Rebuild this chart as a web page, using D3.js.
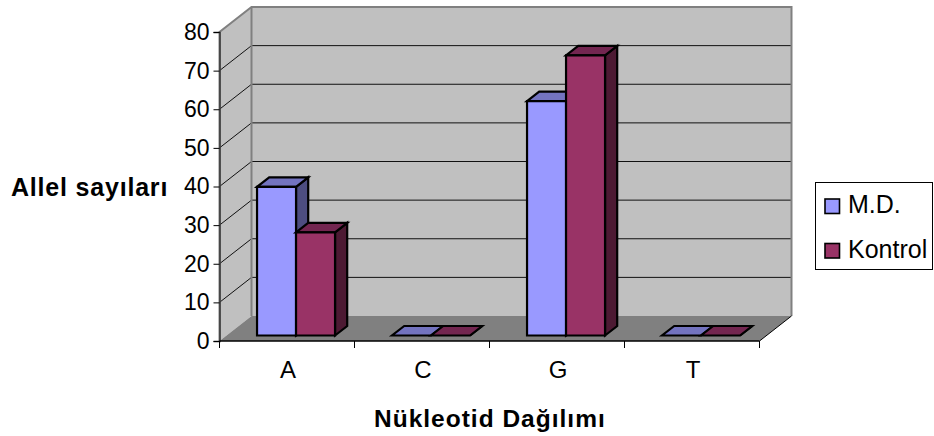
<!DOCTYPE html>
<html>
<head>
<meta charset="utf-8">
<script src="https://cdn.jsdelivr.net/npm/d3@7"></script>
<style>
html,body{margin:0;padding:0;background:#fff}
svg{display:block}
text{font-family:"Liberation Sans",Arial,sans-serif;fill:#000}
</style>
</head>
<body>
<svg id="chart" width="934" height="436"></svg>
<script>
const categories = ["A", "C", "G", "T"];
const seriesNames = ["M.D.", "Kontrol"];
const mdValues = [38.5, 0, 60.7, 0];
const kontrolValues = [26.7, 0, 72.5, 0];
const yTicks = [0, 10, 20, 30, 40, 50, 60, 70, 80];

const frontColors = ["#9999FF", "#993366"];
const topColors = ["#7373BF", "#732650"];
const sideColors = ["#4D4D80", "#4D1A33"];

const svg = d3.select("#chart");
const x = d3.scaleBand().domain(categories).range([219.5, 759.5]);
const y = d3.scaleLinear().domain([0, 80]).range([341, 32]);
const seriesX = d3.scaleBand().domain(seriesNames).range([30.5, 108.5]);

// Oblique projection: depth 0 is the front edge of the floor, 1 the back wall.
const wallDx = 32, wallDy = -25;
const project = (px, v, depth) => [px + wallDx * depth, y(v) + wallDy * depth];
const poly = pts => pts.map(p => p.join(",")).join(" ");

const [x0, x1] = x.range();
const [vMin, vMax] = y.domain();

// Walls and floor
svg.append("polygon")
  .attr("points", poly([project(x0, vMin, 0), project(x0, vMin, 1), project(x0, vMax, 1), project(x0, vMax, 0)]))
  .attr("fill", "#C0C0C0");
svg.append("polygon")
  .attr("points", poly([project(x0, vMin, 1), project(x1, vMin, 1), project(x1, vMax, 1), project(x0, vMax, 1)]))
  .attr("fill", "#C0C0C0");

// Gridlines run along the side wall and across the back wall
yTicks.filter(t => t > 0 && t < 80).forEach(t => {
  const a = project(x0, t, 0), b = project(x0, t, 1), c = project(x1, t, 1);
  svg.append("polyline")
    .attr("points", poly([a, b, c]))
    .attr("fill", "none").attr("stroke", "#111").attr("stroke-width", 1);
});

svg.append("polygon")
  .attr("points", poly([project(x0, vMin, 0), project(x1, vMin, 0), project(x1, vMin, 1), project(x0, vMin, 1)]))
  .attr("fill", "#808080");

// Grey wall outline
svg.append("polyline")
  .attr("points", poly([project(x0, vMin, 0), project(x0, vMax, 0), project(x0, vMax, 1), project(x1, vMax, 1), project(x1, vMin, 1)]))
  .attr("fill", "none").attr("stroke", "#808080").attr("stroke-width", 2);
svg.append("line")
  .attr("x1", project(x0, vMin, 1)[0]).attr("y1", project(x0, vMin, 1)[1])
  .attr("x2", project(x0, vMax, 1)[0]).attr("y2", project(x0, vMax, 1)[1])
  .attr("stroke", "#808080").attr("stroke-width", 2);
svg.append("line")
  .attr("x1", project(x1, vMin, 0)[0]).attr("y1", project(x1, vMin, 0)[1])
  .attr("x2", project(x1, vMin, 1)[0]).attr("y2", project(x1, vMin, 1)[1])
  .attr("stroke", "#000").attr("stroke-width", 1);

// Bars: three faces per bar, left series first so the right one overlaps it
const barDepthStart = 0.22, barDepthEnd = 0.6;
const barOutline = sel => sel.attr("stroke", "#000").attr("stroke-width", 2.2).attr("stroke-linejoin", "miter");
const barRows = [];
[mdValues, kontrolValues].forEach((vals, s) => {
  vals.forEach((v, i) => barRows.push({ s, v, left: x(categories[i]) + seriesX(seriesNames[s]) }));
});
const bars = svg.append("g").selectAll("g").data(barRows).join("g");
bars.append("polygon").call(barOutline)
  .attr("fill", d => sideColors[d.s])
  .attr("points", d => {
    const r = d.left + seriesX.bandwidth();
    return poly([project(r, 0, barDepthStart), project(r, 0, barDepthEnd), project(r, d.v, barDepthEnd), project(r, d.v, barDepthStart)]);
  });
bars.append("polygon").call(barOutline)
  .attr("fill", d => topColors[d.s])
  .attr("points", d => {
    const r = d.left + seriesX.bandwidth();
    return poly([project(d.left, d.v, barDepthStart), project(r, d.v, barDepthStart), project(r, d.v, barDepthEnd), project(d.left, d.v, barDepthEnd)]);
  });
bars.filter(d => d.v > 0).append("polygon").call(barOutline)
  .attr("fill", d => frontColors[d.s])
  .attr("points", d => {
    const r = d.left + seriesX.bandwidth();
    return poly([project(d.left, 0, barDepthStart), project(r, 0, barDepthStart), project(r, d.v, barDepthStart), project(d.left, d.v, barDepthStart)]);
  });

// Axes
const yAxis = d3.axisLeft(y).tickValues(yTicks).tickSize(6).tickPadding(4);
const yG = svg.append("g").attr("transform", `translate(${x0},0)`).call(yAxis);
yG.select(".domain").attr("stroke", "#333").attr("stroke-width", 1.5);
yG.selectAll("text").style("font-size", "23px").attr("fill", "#000");

const xTickPositions = [...categories.map(c => x(c)), x1];
svg.append("line").attr("x1", x0).attr("x2", x1).attr("y1", y(0)).attr("y2", y(0)).attr("stroke", "#000").attr("stroke-width", 1.5);
svg.append("g").selectAll("line").data(xTickPositions).join("line")
  .attr("x1", d => d).attr("x2", d => d).attr("y1", y(0)).attr("y2", y(0) + 7)
  .attr("stroke", "#000");
svg.append("g").selectAll("text").data(categories).join("text")
  .attr("x", c => x(c) + x.bandwidth() / 2 + 1).attr("y", 378)
  .attr("text-anchor", "middle").style("font-size", "24px").text(c => c);

// Axis titles
svg.append("text").attr("x", 11).attr("y", 196)
  .style("font-size", "25px").style("font-weight", "bold").style("letter-spacing", "0.8px").text("Allel sayıları");
svg.append("text").attr("x", 374).attr("y", 427)
  .style("font-size", "24.5px").style("font-weight", "bold").style("letter-spacing", "1px").text("Nükleotid Dağılımı");

// Legend
svg.append("rect").attr("x", 815.5).attr("y", 182.5).attr("width", 117).attr("height", 87)
  .attr("fill", "#fff").attr("stroke", "#000");
const legend = svg.append("g").selectAll("g").data(seriesNames).join("g")
  .attr("transform", (d, i) => `translate(825,${199 + i * 44.5})`);
legend.append("rect").attr("width", 14.5).attr("height", 14.5)
  .attr("fill", (d, i) => frontColors[i]).attr("stroke", "#000").attr("stroke-width", 1.6);
legend.append("text").attr("x", 23).attr("y", 14).style("font-size", "25px").text(d => d);
</script>
</body>
</html>
